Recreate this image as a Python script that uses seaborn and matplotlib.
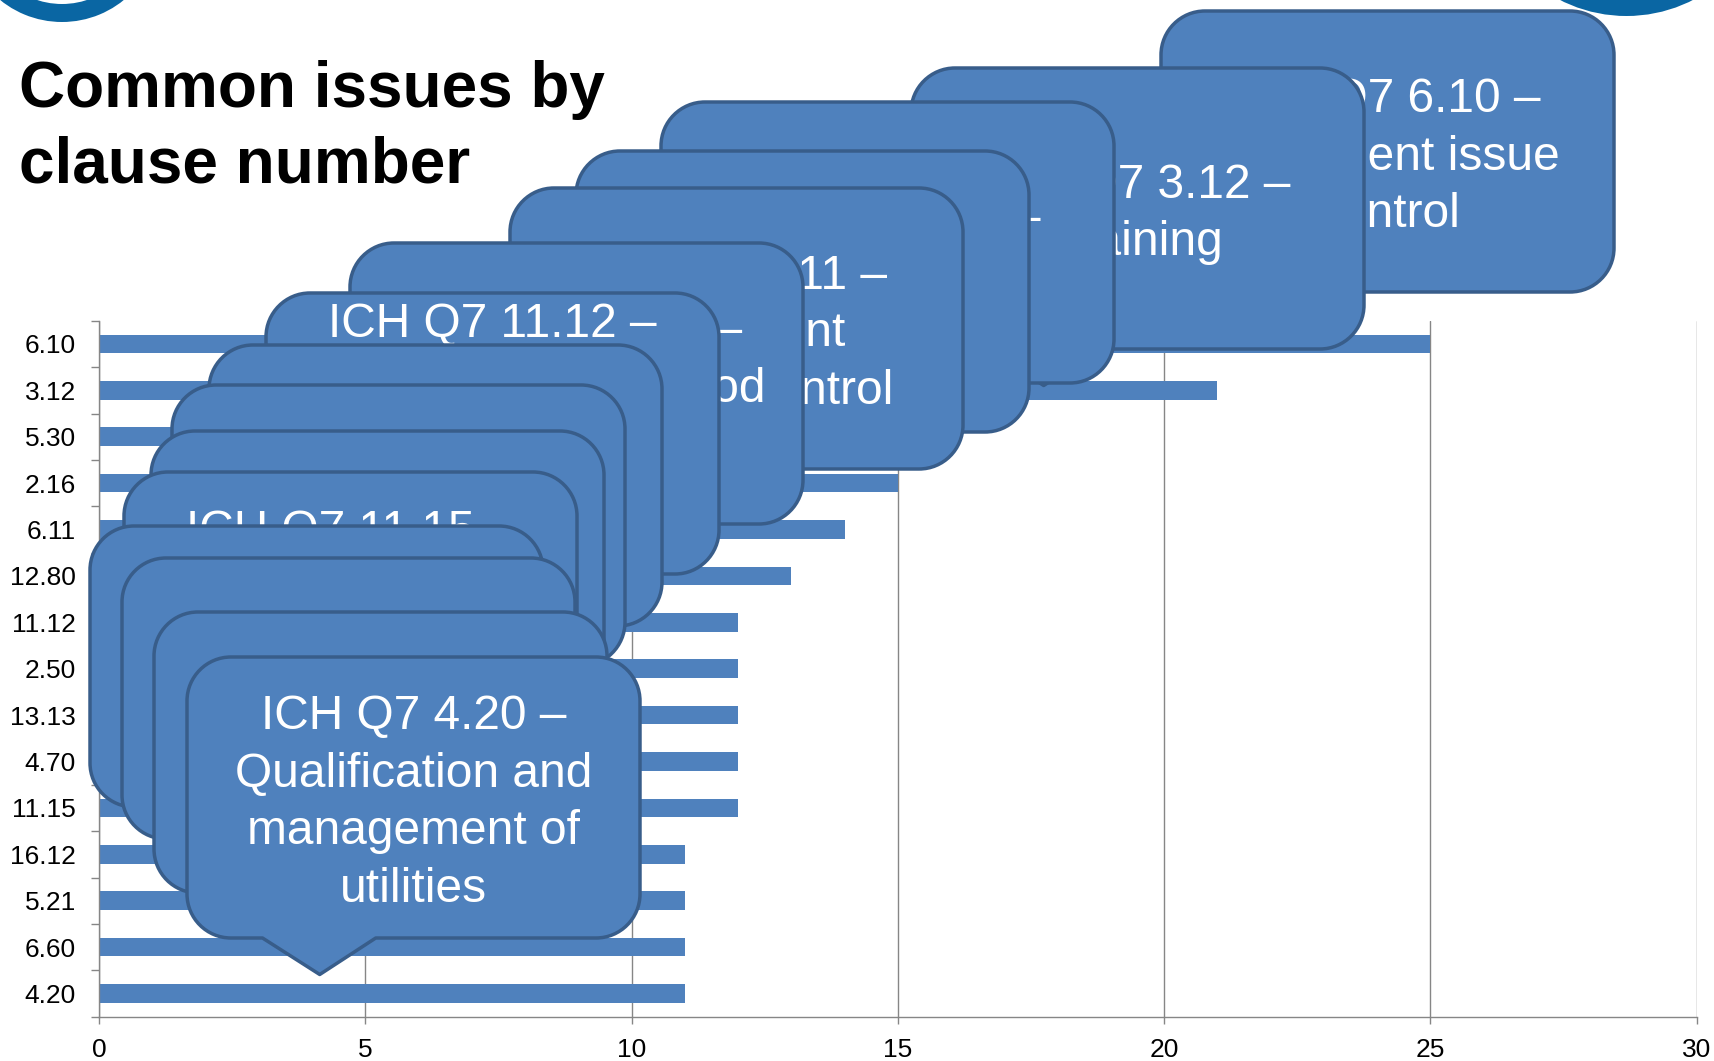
import numpy as np
import matplotlib
matplotlib.use("Agg")
import matplotlib.pyplot as plt
import matplotlib.patches as mpatches
import matplotlib.transforms as mtransforms
from matplotlib.path import Path
import seaborn as sns

# ---- data -------------------------------------------------------------
clauses = ["6.10", "3.12", "5.30", "2.16", "6.11", "12.80", "11.12", "2.50",
           "13.13", "4.70", "11.15", "16.12", "5.21", "6.60", "4.20"]
issue_counts = [25, 21, 16, 15, 14, 13, 12, 12, 12, 12, 12, 11, 11, 11, 11]
x_ticks = [0, 5, 10, 15, 20, 25, 30]
title_lines = ["Common issues by", "clause number"]

# one callout per clause, same order as the bars (back to front);
# empty strings are lines that sit under the callouts stacked in front
callout_texts = [
    ["ICH Q7 6.10 –", "Document issue", "control"],
    ["ICH Q7 3.12 –", "Training"],
    ["ICH Q7 5.30 –", ""],
    [],
    ["ICH Q7 6.11 –", "Document", "change control"],
    ["ICH Q7 12.80 –", "Analytical method", ""],
    ["ICH Q7 11.12 –", "", "", "", ""],
    [],
    [],
    [],
    ["ICH Q7 11.15 –", "", "", ""],
    [],
    [],
    [],
    ["ICH Q7 4.20 –", "Qualification and", "management of", "utilities"],
]

# ---- layout (pixels, origin top-left) ---------------------------------
W, H = 1714, 1061
callout_corner = [
    (1161, 11), (911, 68), (661, 102), (576, 151), (510, 188),
    (350, 243), (266, 293), (209, 345), (172, 385), (151, 431),
    (124, 472), (90, 526), (122, 558), (154, 612), (187, 657),
]
BOX_W, BOX_H, BOX_R = 453, 281, 44
LINE_STEP = 57.4

BAR = "#4F81BD"
EDGE = "#385D8A"
GRID = "#868686"
LOGO = "#0A66A3"

sns.set_theme(style="white")
plt.rcParams["font.family"] = ["Liberation Sans", "DejaVu Sans"]

fig = plt.figure(figsize=(W / 100, H / 100), dpi=100)
fig.patch.set_facecolor("white")
px = mtransforms.Affine2D().scale(1 / W, -1 / H).translate(0, 1) + fig.transFigure

ax = fig.add_axes([99 / W, 1 - 1016.7 / H, (1696.5 - 99) / W, (1016.7 - 320.7) / H])
sns.barplot(x=issue_counts, y=clauses, orient="h", color=BAR, saturation=1,
            width=0.4, linewidth=0, ax=ax)
ax.set_xlim(0, 30)
ax.set_ylim(14.5, -0.5)
ax.set_xlabel("")
ax.set_ylabel("")
ax.set_xticks(x_ticks, labels=[str(t) for t in x_ticks])
ax.set_yticks(np.arange(-0.5, 15, 1), labels=[""] * 16)
ax.set_yticks(np.arange(15), labels=clauses, minor=True)
ax.tick_params(axis="x", length=5, width=1, color=GRID, pad=10.5,
               labelsize=19, labelcolor="black", direction="out", bottom=True)
ax.tick_params(axis="y", which="major", length=6, width=1, color=GRID,
               direction="out", left=True)
ax.tick_params(axis="y", which="minor", length=0, pad=16.5,
               labelsize=19, labelcolor="black")
for side in ("top", "right"):
    ax.spines[side].set_visible(False)
for side in ("left", "bottom"):
    ax.spines[side].set_color(GRID)
    ax.spines[side].set_linewidth(1)
ax.grid(axis="x", color=GRID, linewidth=1)
ax.grid(axis="y", visible=False)
ax.set_axisbelow(True)


def callout_path(x0, y0, w, h, r):
    """Rounded rectangle with a downward wedge tail (pixel coords, y down)."""
    k = 0.5523 * r
    x1, y1 = x0 + w, y0 + h
    tl, tr = x0 + w / 6, x0 + w * 5 / 12
    tip = (x0 + 0.293 * w, y1 + 36.5)
    verts = [
        (x0 + r, y0), (x1 - r, y0),
        (x1 - r + k, y0), (x1, y0 + r - k), (x1, y0 + r),
        (x1, y1 - r),
        (x1, y1 - r + k), (x1 - r + k, y1), (x1 - r, y1),
        (tr, y1), tip, (tl, y1),
        (x0 + r, y1),
        (x0 + r - k, y1), (x0, y1 - r + k), (x0, y1 - r),
        (x0, y0 + r),
        (x0, y0 + r - k), (x0 + r - k, y0), (x0 + r, y0),
        (x0 + r, y0),
    ]
    codes = [Path.MOVETO, Path.LINETO,
             Path.CURVE4, Path.CURVE4, Path.CURVE4,
             Path.LINETO,
             Path.CURVE4, Path.CURVE4, Path.CURVE4,
             Path.LINETO, Path.LINETO, Path.LINETO,
             Path.LINETO,
             Path.CURVE4, Path.CURVE4, Path.CURVE4,
             Path.LINETO,
             Path.CURVE4, Path.CURVE4, Path.CURVE4,
             Path.CLOSEPOLY]
    return Path(verts, codes)


for i, ((bx, by), lines) in enumerate(zip(callout_corner, callout_texts)):
    patch = mpatches.PathPatch(callout_path(bx, by, BOX_W, BOX_H, BOX_R),
                               facecolor=BAR, edgecolor=EDGE, linewidth=2.5,
                               joinstyle="round", transform=px, zorder=5 + 2 * i)
    fig.add_artist(patch)
    cx = bx + BOX_W / 2
    cy = by + BOX_H / 2
    n = len(lines)
    for j, line in enumerate(lines):
        if not line:
            continue
        base = cy + 18 + (j - (n - 1) / 2) * LINE_STEP
        fig.text(cx, base, line, transform=px, ha="center", va="baseline",
                 fontsize=34.5, color="white", zorder=6 + 2 * i)

# title
for j, line in enumerate(title_lines):
    fig.text(19, 106.7 + j * 75.5, line, transform=px, ha="left", va="baseline",
             fontsize=46, fontweight="bold", color="black", zorder=50)

# corner emblems
fig.add_artist(mpatches.Annulus((62, -76), 98, 18, facecolor=LOGO,
                                edgecolor="none", transform=px, zorder=50))
fig.add_artist(mpatches.Circle((1626.5, -130), 146, facecolor=LOGO,
                               edgecolor="none", transform=px, zorder=50))

fig.savefig("out.png", dpi=100, facecolor="white")
